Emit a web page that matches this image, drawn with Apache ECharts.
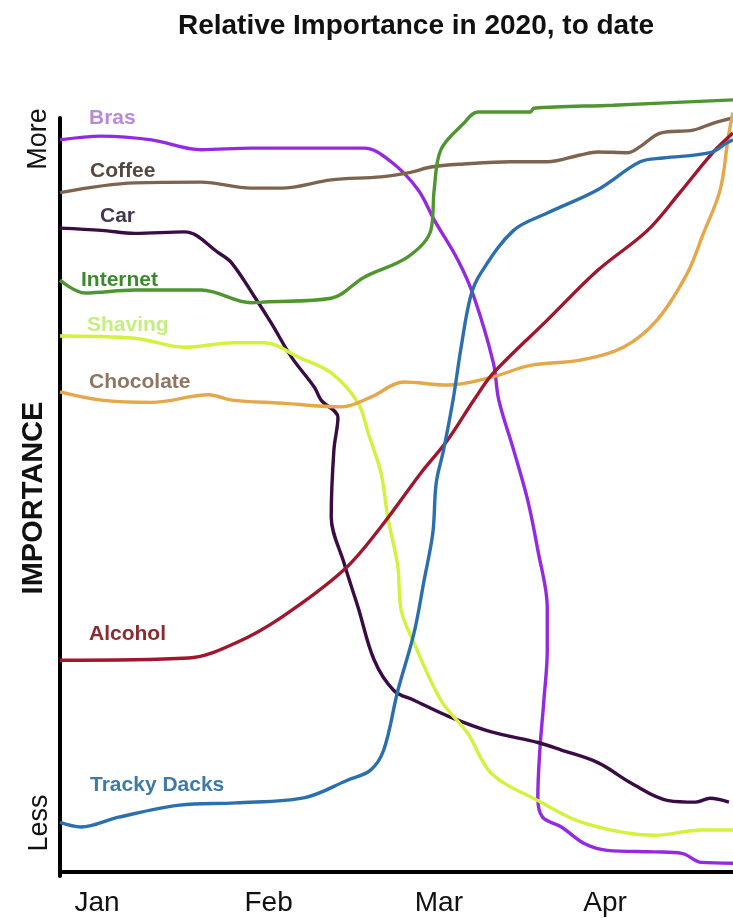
<!DOCTYPE html>
<html>
<head>
<meta charset="utf-8">
<title>Relative Importance in 2020, to date</title>
<script src="https://cdn.jsdelivr.net/npm/echarts@6/dist/echarts.min.js"></script>
<style>
    html, body { margin: 0; padding: 0; background: #fff; }
    #chart { width: 733px; height: 918px; }
</style>
</head>
<body>
<div id="chart"></div>
<script>
// x: time from the start of Jan (0) to late Apr (100), y: importance 0 (less) .. 100 (more)
const monthTicks = [5.5, 31.0, 56.3, 81.0]
const monthNames = ['Jan', 'Feb', 'Mar', 'Apr']

const seriesNames = ['Bras', 'Coffee', 'Car', 'Internet', 'Shaving', 'Chocolate', 'Alcohol', 'Tracky Dacks']

const bras = [[0, 97.1], [6.2, 97.6], [13.6, 97.1], [21.0, 95.8], [28.4, 96.0], [35.9, 96.0], [45.2, 96.0], [49.2, 94.2],
    [53.2, 90.5], [55.6, 86.5], [59.1, 81.2], [61.5, 76.3], [64.4, 67.5], [65.2, 62.6], [67.4, 56.0], [69.5, 49.3],
    [71.0, 42.7], [72.4, 35.1], [72.4, 29.4], [71.9, 22.8], [71.3, 16.2], [71.0, 9.9], [71.7, 7.3], [74.5, 6.0],
    [77.9, 3.8], [81.3, 2.9], [88.3, 2.7], [92.4, 2.5], [95.3, 1.3], [100, 1.2]]
const coffee = [[0, 90.1], [11.1, 91.4], [21.0, 91.5], [28.4, 90.7], [32.9, 90.7], [40.3, 91.8], [47.7, 92.2], [52.1, 92.8],
    [55.1, 93.5], [60.0, 93.9], [67.0, 94.2], [72.4, 94.2], [77.3, 95.1], [79.9, 95.5], [84.3, 95.4], [86.2, 96.2],
    [89.2, 98.0], [94.1, 98.4], [97.0, 99.3], [100, 100]]
const car = [[0, 85.4], [6.2, 85.1], [11.1, 84.7], [18.5, 84.9], [23.6, 82.1], [25.5, 80.8], [28.9, 76.3], [31.4, 72.8],
    [34.4, 68.3], [37.8, 64.3], [38.8, 62.6], [41.3, 60.3], [40.7, 56.0], [40.3, 47.1], [42.2, 41.0], [44.3, 35.1],
    [46.7, 28.1], [49.6, 24.1], [52.6, 22.8], [57.9, 20.6], [64.1, 18.6], [71.0, 17.2], [74.5, 16.2], [80.0, 14.5],
    [84.9, 11.8], [90.4, 9.5], [94.5, 9.3], [96.6, 9.8], [99.4, 9.3]]
const internet = [[0, 78.5], [3.7, 76.8], [11.1, 77.2], [21.0, 77.2], [28.4, 75.5], [30.4, 75.6], [40.3, 76.1], [45.2, 78.9],
    [51.7, 81.6], [55.1, 85.1], [55.6, 90.5], [56.6, 95.8], [60.0, 99.3], [62.1, 100.8], [69.9, 100.8], [70.4, 101.3],
    [82.2, 101.7], [100, 102.4]]
const shaving = [[0, 71.1], [11.1, 70.8], [18.5, 69.6], [25.9, 70.2], [30.4, 70.2], [35.4, 68.3], [40.3, 66.2], [44.3, 62.2],
    [45.8, 58.2], [47.7, 52.9], [48.7, 47.1], [50.2, 40.5], [50.7, 34.7], [52.6, 30.4], [56.6, 22.8], [60.6, 18.4],
    [64.1, 13.1], [71.0, 9.5], [77.9, 6.5], [88.3, 4.9], [95.3, 5.6], [100, 5.6]]
const chocolate = [[0, 63.7], [6.2, 62.6], [13.6, 62.3], [22.1, 63.3], [25.5, 62.6], [32.9, 62.2], [41.8, 61.7], [46.2, 63.0],
    [51.1, 65.0], [57.6, 64.6], [64.0, 65.6], [69.9, 67.2], [77.3, 67.9], [83.7, 69.6], [88.7, 73.2], [93.2, 79.4],
    [95.6, 84.7], [98.1, 90.5], [99.3, 97.5], [100, 100.7]]
const alcohol = [[0, 28.1], [19.1, 28.4], [26.1, 30.4], [32.9, 33.8], [42.2, 40.1], [47.7, 45.8], [53.6, 52.9], [57.6, 57.3],
    [61.5, 62.6], [64.4, 66.2], [72.4, 73.2], [79.9, 79.8], [87.3, 85.1], [92.1, 90.1], [97.0, 95.4], [100, 98.0]]
const trackyDacks = [[0, 6.6], [3.1, 6.0], [8.7, 7.3], [17.8, 8.9], [26.1, 9.2], [36.4, 9.9], [42.7, 12.2], [46.1, 13.5],
    [48.1, 16.2], [50.2, 24.1], [52.6, 31.7], [54.1, 38.7], [55.4, 45.0], [55.9, 51.6], [57.0, 56.0], [58.4, 62.6],
    [59.6, 69.6], [61.0, 76.3], [62.5, 79.4], [67.4, 85.1], [72.4, 87.4], [79.9, 90.5], [86.2, 94.2], [89.6, 94.7],
    [96.6, 95.4], [99.1, 96.7], [100, 97.1]]

const seriesData = [bras, coffee, car, internet, shaving, chocolate, alcohol, trackyDacks]

// line colours and the hand-written name colours
const lineColors = ['#9329e0', '#7d6450', '#3a0c44', '#4f9630', '#d2f23c', '#e6a64a', '#a0162c', '#2b6fae']
const nameColors = ['#b88ad8', '#55483f', '#45384f', '#3b8a2e', '#c6ee7e', '#8f7562', '#8b2a30', '#3f7aa6']
// where each name is written (px)
const namePos = [[89, 118], [90, 171], [100, 216], [81, 280], [87, 325], [89, 382], [89, 634], [90, 785]]

const chart = echarts.init(document.getElementById('chart'))

const font = '"Liberation Sans", Arial, sans-serif'

let graphics = seriesNames.map((name, i) => ({
    type: 'text',
    x: namePos[i][0],
    y: namePos[i][1],
    style: {
        text: name,
        fill: nameColors[i],
        font: 'bold 21px ' + font,
        textAlign: 'left',
        textVerticalAlign: 'middle',
    },
}))

// y axis words, written upwards
graphics.push(
    {
        type: 'text', x: 39, y: 139, rotation: Math.PI / 2,
        style: { text: 'More', fill: '#111', font: '27px ' + font, textAlign: 'center', textVerticalAlign: 'middle' },
    },
    {
        type: 'text', x: 40, y: 823, rotation: Math.PI / 2,
        style: { text: 'Less', fill: '#111', font: '27px ' + font, textAlign: 'center', textVerticalAlign: 'middle' },
    },
    {
        type: 'text', x: 34, y: 498, rotation: Math.PI / 2,
        style: { text: 'IMPORTANCE', fill: '#111', font: 'bold 29px ' + font, textAlign: 'center', textVerticalAlign: 'middle' },
    }
)

let option = {
    animation: false,
    backgroundColor: '#fff',
    title: {
        text: 'Relative Importance in 2020, to date',
        left: 411,
        top: 7,
        textAlign: 'center',
        textStyle: {
            fontFamily: font,
            fontSize: 28,
            fontWeight: 'bold',
            color: '#111',
        },
    },
    grid: {
        left: 60,
        right: 0,
        top: 118,
        bottom: 42,
    },
    xAxis: {
        type: 'value',
        min: 0,
        max: 100,
        axisLine: { lineStyle: { color: '#000', width: 4 } },
        axisTick: { show: false },
        splitLine: { show: false },
        axisLabel: {
            customValues: monthTicks,
            formatter: function (value) {
                const i = monthTicks.indexOf(value)
                return i >= 0 ? monthNames[i] : ''
            },
            color: '#111',
            fontFamily: font,
            fontSize: 28,
            margin: 13,
        },
    },
    yAxis: {
        type: 'value',
        min: -0.5,
        max: 100,
        axisLine: { show: true, lineStyle: { color: '#000', width: 4 } },
        axisTick: { show: false },
        splitLine: { show: false },
        axisLabel: { show: false },
    },
    graphic: graphics,
    series: seriesNames.map((name, i) => ({
        name: name,
        type: 'line',
        data: seriesData[i],
        smooth: 0.35,
        showSymbol: false,
        clip: false,
        lineStyle: { color: lineColors[i], width: 3.4 },
        itemStyle: { color: lineColors[i] },
    })),
}

chart.setOption(option)
</script>
</body>
</html>
